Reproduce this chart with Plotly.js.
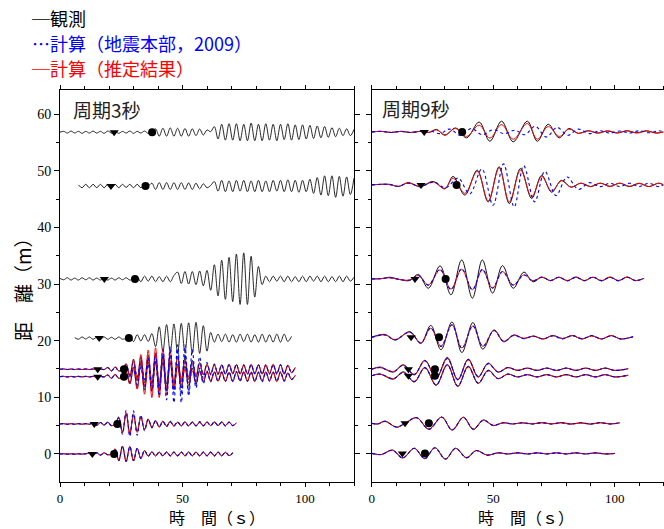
<!DOCTYPE html>
<html><head><meta charset="utf-8">
<script src="https://cdn.plot.ly/plotly-3.0.1.min.js"></script>
<style>html,body{margin:0;padding:0;background:#fff}#chart{width:664px;height:529px}</style>
</head><body><div id="chart"></div>
<script>
// ---------- time grids (s) ----------
const T_LEFT = [0,1.5,3,4.5,6,7.5,9,10.5,12,13.5,15,16.5,18,19.5,21,22.5,24,25.5,27,28.5,30,31.5,33,34.5,36,37.5,39,40.5,42,43.5,45,46.5,48,49.5,51,52.5,54,55.5,57,58.5,60,61.5,63,64.5,66,67.5,69,70.5,72,73.5,75,76.5,78,79.5,81,82.5,84,85.5,87,88.5,90,91.5,93,94.5,96,97.5,99,100.5,102,103.5,105,106.5,108,109.5,111,112.5,114,115.5,117,118.5,120];

// ---------- station distances (baselines) ----------
const BASE_LEFT  = [56.8, 47.3, 30.9, 20.45, 14.95, 13.65, 5.3, 0];
const BASE_RIGHT = [56.85, 47.5, 30.9, 20.6, 14.95, 13.8, 5.4, 0.1];

// ---------- phase markers (s) ----------
const TRI_LEFT  = [22.1, 20.8, 18.1, 16.0, 15.4, 15.4, 14.0, 13.2];
const CIR_LEFT  = [37.6, 34.9, 30.6, 28.1, 26.1, 26.1, 23.4, 22.1];
const TRI_RIGHT = [21.6, 20.3, 17.8, 16.2, 15.1, 15.1, 13.7, 12.6];
const CIR_RIGHT = [37.2, 34.9, 30.4, 27.7, 26.0, 26.0, 23.5, 21.9];

// ---------- period 3 s panel (amplitudes on T_LEFT) ----------
const L1_OBS = [0,0.15,-0.15,0.2,-0.15,0.15,-0.2,0.15,-0.15,0.2,-0.15,0.15,-0.2,0.2,-0.15,0.15,-0.2,0.15,-0.15,0.2,-0.2,0.15,-0.15,0.2,-0.2,0,
0.6,-0.7,0.7,-0.7,0.75,-0.7,0.7,-0.7,0.65,-0.7,0.6,-0.6,0.55,-0.5,0.4,0.1,
1.0,-1.2,1.4,-1.4,1.5,-1.4,1.5,-1.5,1.4,-1.5,1.6,-1.5,1.4,-1.5,1.5,-1.4,1.4,-1.5,1.4,-1.3,1.5,-1.4,1.3,-1.3,1.3,-1.2,1.2,-1.1,1.1,-1.0,1.0,-0.9,
0.8,-0.8,0.7,-0.6,0.6,-0.6,0.5];
const L2_OBS = [null,null,null,null,null,0.2,-0.3,0.3,-0.3,0.3,-0.3,0.3,-0.3,0.3,-0.3,0.3,-0.3,0.3,-0.25,0.3,-0.3,0.3,-0.3,0.2,0,
0.5,-0.6,0.6,-0.6,0.6,-0.6,0.6,-0.6,0.6,-0.6,0.55,-0.6,0.5,-0.5,0.4,-0.3,0.1,
0.8,-0.9,1.0,-1.0,0.9,-1.0,1.0,-0.9,1.0,-1.0,0.9,-1.0,1.0,-1.0,0.9,-1.0,1.0,-0.9,1.0,-1.0,1.1,-1.0,1.0,-1.1,1.0,-1.0,1.2,-1.3,
1.5,-1.6,1.8,-1.7,1.8,-2.0,1.7,-1.8,1.6,-1.5,1.4];
const L3_OBS = [0.1,-0.15,0.2,-0.2,0.15,-0.2,0.2,-0.15,0.2,-0.2,0.15,-0.2,0.2,-0.2,0.15,-0.2,0.2,-0.15,0.2,-0.2,0,
0.4,-0.5,0.5,-0.4,0.5,-0.5,0.4,-0.5,0.5,-0.5,0.6,
1.2,-0.8,1.3,-0.9,1.3,-1.0,1.4,-1.2,
1.5,-2.0,2.5,-3.0,3.3,-3.6,3.8,-4.0,4.4,-4.5,4.6,-4.5,4.0,-3.2,2.2,-1.0,
0.5,-0.5,0.5,-0.4,0.5,-0.5,0.5,-0.5,0.4,-0.5,0.5,-0.5,0.5,-0.4,0.5,-0.5,0.5,-0.5,0.4,-0.5,0.5,-0.5,0.5,-0.4,0.3];
const L4_OBS = [null,null,null,null,0.1,-0.2,0.2,-0.15,0.2,-0.2,0.15,-0.2,0.2,-0.2,0.15,-0.2,0.2,-0.2,0,
0.5,-0.6,0.6,-0.5,0.6,-0.6,
0.8,-1.5,2.0,-2.3,2.4,-2.5,2.5,-2.6,2.6,-2.6,2.7,-2.7,2.8,-2.7,2.2,-2.3,1.0,
-0.7,0.7,-0.6,0.7,-0.7,0.6,-0.7,0.7,-0.6,0.7,-0.7,0.6,-0.7,0.7,-0.7,0.6,-0.7,0.7,-0.7,0.7,-0.6,0.3];

const L56_QUIET = [0,0.05,-0.05,0.05,-0.05,0.05,-0.05,0.05,-0.05,0.05,-0.05,0.05,-0.05,0.3,-0.3,0.4,-0.3,0];
const L5_OBS_BURST = [1.0,-1.4,1.8,-2.0,2.2,-2.4,2.5,-2.5,2.6,-2.5,2.4,-2.6,2.5,-2.4,2.3,-2.2,2.0,-1.8,1.6,-1.4,1.2,-1.0,0.9];
const L5_OBS_TAIL  = [-0.8,0.8,-0.8,0.7,-0.8,0.8,-0.7,0.8,-0.8,0.7,-0.8,0.8,-0.7,0.8,-0.8,0.7,-0.8,0.8,-0.7,0.8,-0.8,0.7,-0.6,0.3];
const L5_RED_BURST = [0.8,-1.2,1.6,-2.0,2.6,-3.0,3.4,-3.6,3.8,-3.8,3.7,-3.6,3.2,-2.8,2.2,-1.8,1.5,-1.3,1.1,-1.0,0.9,-0.9,0.8];
const L5_RED_TAIL  = [-0.8,0.8,-0.9,0.8,-0.8,0.9,-0.8,0.8,-0.9,0.8,-0.8,0.9,-0.8,0.8,-0.9,0.8,-0.8,0.9,-0.8,0.8,-0.9,0.7,-0.6,0.3];
const L5_BLU_BURST = [0.8,-1.0,1.2,-1.4,1.6,-1.8,2.0,-2.4,2.8,-3.2,3.5,-3.8,4.0,-4.2,4.3,-4.5,4.3,-4.0,3.5,-2.8,2.2,-1.6,1.2];
const L5_BLU_TAIL  = [-1.0,0.9,-0.9,0.8,-0.9,0.8,-0.8,0.9,-0.8,0.8,-0.9,0.8,-0.8,0.8,-0.9,0.8,-0.8,0.8,-0.9,0.8,-0.8,0.7,-0.6,0.3];
const L6_OBS_BURST = [0.9,-1.3,1.7,-2.1,2.3,-2.4,2.6,-2.5,2.5,-2.6,2.5,-2.4,2.4,-2.3,2.2,-2.0,1.9,-1.7,1.5,-1.3,1.1,-1.0,0.9];
const L6_OBS_TAIL  = [-0.7,0.8,-0.8,0.7,-0.8,0.7,-0.8,0.8,-0.7,0.8,-0.8,0.7,-0.8,0.7,-0.8,0.8,-0.7,0.8,-0.8,0.7,-0.7,0.6,-0.5,0.2];
const L6_RED_BURST = [0.8,-1.3,1.7,-2.2,2.7,-3.1,3.4,-3.7,3.8,-3.7,3.6,-3.2,2.8,-2.2,1.8,-1.5,1.3,-1.1,1.0,-0.9,0.9,-0.8,0.8];
const L6_RED_TAIL  = [-0.9,0.8,-0.8,0.9,-0.8,0.8,-0.9,0.8,-0.8,0.9,-0.8,0.8,-0.9,0.8,-0.8,0.9,-0.8,0.8,-0.9,0.8,-0.8,0.7,-0.5,0.2];
const L6_BLU_BURST = [0.8,-1.0,1.3,-1.5,1.7,-1.9,2.2,-2.6,3.0,-3.4,3.8,-4.1,4.4,-4.6,4.8,-4.6,4.0,-3.4,2.6,-2.0,1.5,-1.2,1.0];
const L6_BLU_TAIL  = [-0.9,0.9,-0.8,0.8,-0.9,0.8,-0.8,0.9,-0.8,0.8,-0.8,0.9,-0.8,0.8,-0.9,0.8,-0.8,0.8,-0.8,0.9,-0.8,0.7,-0.5,0.2];

const L7_QUIET = [0,0.05,-0.05,0.05,-0.05,0.05,-0.05,0.05,-0.05,0.2,-0.25,0.25,-0.2,0.3,-0.3,0];
const L7_OBS_REST = [1.0,-1.4,1.8,-1.6,1.5,-1.3,1.2,-1.0,0.8,-0.6,
0.6,-0.5,0.5,-0.4,0.4,-0.4,0.3,-0.3,0.4,-0.3,0.3,-0.4,0.3,-0.3,0.4,-0.3,0.3,-0.3,0.4,-0.3,0.3,-0.3,0.2];
const L7_RED_REST = [1.2,-1.6,2.0,-1.9,1.8,-1.5,1.3,-1.0,0.8,-0.6,
0.5,-0.6,0.5,-0.4,0.5,-0.4,0.3,-0.4,0.3,-0.3,0.4,-0.3,0.3,-0.4,0.3,-0.3,0.4,-0.3,0.3,-0.3,0.4,-0.3,0.2];
const L7_BLU_REST = [1.2,-1.8,2.4,-2.2,2.3,-2.0,1.6,-1.2,0.9,-0.7,
0.6,-0.5,0.4,-0.5,0.4,-0.3,0.4,-0.3,0.3,-0.4,0.3,-0.3,0.4,-0.3,0.3,-0.3,0.4,-0.3,0.3,-0.4,0.3,-0.3,0.2];

const L8_QUIET = [0,0.03,-0.03,0.03,-0.03,0.03,-0.03,0.03,0.15,-0.2,0.2,-0.2,0.2,-0.15,0];
const L8_OBS_REST = [0.8,-1.1,1.3,-1.3,1.3,-1.2,1.0,-0.8,0.6,
-0.4,0.35,-0.35,0.3,-0.35,0.35,-0.3,0.35,-0.35,0.3,-0.35,0.35,-0.3,0.35,-0.35,0.3,-0.35,0.35,-0.3,0.35,-0.35,0.3,-0.3,0.2];
const L8_RED_REST = [0.9,-1.2,1.4,-1.4,1.3,-1.2,1.0,-0.8,0.6,
-0.35,0.4,-0.35,0.35,-0.3,0.35,-0.35,0.3,-0.35,0.35,-0.3,0.35,-0.35,0.3,-0.35,0.35,-0.3,0.35,-0.35,0.3,-0.35,0.3,-0.3,0.2];
const L8_BLU_REST = [0.8,-1.2,1.4,-1.3,1.3,-1.2,1.0,-0.8,0.6,
-0.4,0.35,-0.3,0.35,-0.35,0.3,-0.35,0.35,-0.3,0.35,-0.35,0.3,-0.35,0.35,-0.3,0.35,-0.35,0.3,-0.35,0.35,-0.3,0.3,-0.3,0.2];

// ---------- period 9 s panel (extrema times and amplitudes) ----------
const R1_T     = [0,4,8,12,16,20,23.5,26.7,30.1,34.5,39.0,44.2,48.6,53.4,58.2,64.0,68.1,72.6,77.1,81.1,85,89,93,97,101,105,109,113,117,120];
const R1_OBS   = [0,0.1,-0.1,0.1,-0.1,0.1,-0.1,0.45,-0.6,0.7,-1.05,1.75,-1.65,1.9,-1.75,1.9,-1.65,1.35,-1.05,0.6,-0.25,0.2,-0.2,0.15,-0.2,0.2,-0.15,0.2,-0.2,0];
const R1_RED   = [0,0.1,-0.1,0.1,-0.1,0.1,-0.1,0.35,-0.5,0.6,-0.8,1.2,-1.1,1.3,-1.3,1.5,-1.3,0.95,-0.8,0.5,-0.25,0.2,-0.2,0.2,-0.15,0.2,-0.2,0.15,-0.2,0];
const R1_BLU_T = [0,4,8,12,16,20,24,28,32,36.5,41,45.5,50,54.5,59,63,67.2,71.8,76.2,80.6,85,89.5,94,98,102,106,110,114,118,120];
const R1_BLU   = [0,0.1,-0.1,0.1,-0.1,0.1,0.2,-0.3,0.5,-0.6,0.6,-0.5,0.4,-0.3,0.3,-0.5,1.0,-0.9,0.8,-0.6,0.5,-0.3,0.2,-0.2,0.15,-0.2,0.2,-0.15,0.2,0];

const R2_T     = [0,4,7.5,11,15,19.9,25.3,30.1,33.5,38.3,43.4,47.9,52.4,56.6,61.2,65.8,69.9,74,78,82,86,90,94,98,102,106,110,114,118,120];
const R2_OBS   = [0,0.1,0.1,-0.3,0.4,-0.3,0.6,-0.7,1.5,-1.8,2.6,-3.0,3.2,-3.3,2.9,-2.4,1.7,-1.3,0.8,-0.4,0.3,-0.3,0.3,-0.25,0.3,-0.3,0.25,-0.3,0.3,0];
const R2_RED   = [0,0.1,0.05,-0.25,0.35,-0.3,0.5,-0.6,1.2,-1.5,2.4,-2.8,3.0,-3.0,2.6,-2.1,1.5,-1.1,0.7,-0.4,0.3,-0.3,0.3,-0.3,0.3,-0.25,0.3,-0.3,0.3,0];
const R2_BLU_T = [0,4,7.5,11,15,20,25.5,30.5,35.5,40.3,45.3,49.9,54.2,58.6,62.5,67,71.2,75.8,80.3,85,89.5,94,98,102,106,110,114,118,120];
const R2_BLU   = [0,0.1,0.05,-0.25,0.3,-0.3,0.5,-0.5,1.2,-1.6,2.8,-3.6,3.7,-3.9,3.4,-3.0,2.4,-1.9,1.4,-0.8,0.4,-0.3,0.3,-0.3,0.3,-0.3,0.3,-0.3,0];

const R3_T     = [0,4,7.5,11.5,15.5,19.2,23.3,28.1,32.6,37,41.4,45.5,49.7,53.8,58.2,62.6,66.3,70,73.5,77,80.5,84,87.5,91,94.5,98,101.5,105,108.5,112];
const R3_OBS   = [0,0.05,0.3,-0.1,-0.3,0.8,-1.65,2.3,-2.8,3.35,-3.4,3.35,-2.5,2.35,-1.65,1.2,-0.5,0.3,-0.3,0.3,-0.3,0.35,-0.3,0.3,-0.35,0.3,-0.3,0.35,-0.3,0.1];
const R3_RED   = [0,0.05,0.2,-0.1,-0.2,0.6,-1.06,1.6,-1.8,1.7,-1.9,1.6,-1.65,1.3,-1.06,0.7,-0.3,0.3,-0.3,0.3,-0.3,0.3,-0.3,0.3,-0.3,0.35,-0.3,0.3,-0.3,0.1];
const R3_BLU   = [0,0.05,0.2,-0.1,-0.2,0.6,-1.1,1.7,-1.9,1.8,-1.9,1.7,-1.6,1.3,-1.1,0.7,-0.35,0.35,-0.3,0.3,-0.35,0.3,-0.3,0.35,-0.3,0.3,-0.35,0.3,-0.3,0.1];

const R4_T     = [0,5.5,9.6,15.7,20.2,24.3,28.5,33.0,37.1,41.6,45.7,50.3,54.3,58.5,62.5,66.5,70.5,74.5,78.5,82.5,86.5,90.5,94.5,98.5,102.5,107.5];
const R4_OBS   = [0,0.5,-0.5,1.0,-1.1,2.1,-2.2,2.7,-2.7,2.6,-2.1,1.3,-0.8,0.4,-0.2,0.2,-0.3,0.3,-0.2,0.3,-0.3,0.25,-0.3,0.3,-0.3,0.1];
const R4_RED   = [0,0.4,-0.4,0.9,-1.0,1.6,-1.6,2.2,-1.9,2.0,-1.6,1.2,-0.7,0.4,-0.2,0.2,-0.3,0.3,-0.25,0.3,-0.3,0.25,-0.3,0.3,-0.3,0.1];
const R4_BLU   = [0,0.4,-0.45,0.9,-1.0,1.65,-1.6,2.2,-1.95,2.0,-1.6,1.2,-0.7,0.35,-0.25,0.2,-0.3,0.25,-0.3,0.3,-0.25,0.3,-0.3,0.25,-0.3,0.1];

const R56_T    = [0,3.4,8.9,13,17.5,21.9,26.5,31.1,35.4,39.7,43.8,47.9,52,56,60,64,68,72,76,80,84,88,92,96,100,105.5];
const R5_OBS   = [0,0.4,-0.5,0.8,-1.0,1.6,-1.6,2.1,-1.9,1.8,-1.4,1.1,-0.5,0.3,-0.2,0.2,-0.2,0.2,-0.2,0.2,-0.2,0.2,-0.2,0.2,-0.2,0.1];
const R5_RED   = [0,0.3,-0.4,0.7,-0.9,1.5,-1.5,1.9,-1.8,1.7,-1.3,1.0,-0.5,0.3,-0.2,0.2,-0.2,0.2,-0.2,0.2,-0.2,0.2,-0.2,0.2,-0.2,0.1];
const R6_OBS   = [0,0.3,-0.6,0.7,-1.1,1.5,-1.7,2.0,-1.9,1.7,-1.35,1.0,-0.5,0.3,-0.2,0.2,-0.2,0.2,-0.2,0.2,-0.2,0.2,-0.2,0.2,-0.2,0.1];
const R6_RED   = [0,0.3,-0.5,0.6,-1.0,1.4,-1.6,1.9,-1.8,1.6,-1.3,0.9,-0.5,0.3,-0.2,0.2,-0.2,0.2,-0.2,0.2,-0.2,0.2,-0.2,0.2,-0.2,0.1];

const R7_T     = [0,2.5,5.5,10.2,13.7,18.5,23.5,28.8,33.1,37.7,41.8,45.9,50,54,58,62,66,70,74,78,82,86,90,94,98,102];
const R7_OBS   = [0,-0.1,0.4,-0.7,0,1.0,-1.0,1.1,-1.2,1.1,-1.1,0.6,-0.4,0.1,-0.1,0.1,-0.1,0.1,-0.1,0.15,-0.1,0.1,-0.15,0.1,-0.1,0.1];
const R7_RED   = [0,-0.1,0.35,-0.65,0,1.0,-1.05,1.1,-1.15,1.05,-1.0,0.55,-0.35,0.1,-0.1,0.1,-0.1,0.15,-0.1,0.1,-0.15,0.1,-0.1,0.15,-0.1,0.1];

const R8_T     = [0,4,8.5,12.8,17.5,21.8,26.0,30.3,34.5,39,43,47.5,52,56,60,64,68,72,76,80,84,88,92,96,100];
const R8_OBS   = [0,-0.2,0.6,-0.8,0.9,-0.9,1.0,-1.0,0.9,-0.8,0.5,-0.3,0.1,-0.1,0.1,-0.1,0.1,-0.1,0.1,-0.1,0.1,-0.1,0.1,-0.1,0];
const R8_RED   = [0,-0.2,0.55,-0.8,0.9,-0.95,1.0,-1.0,0.9,-0.75,0.5,-0.3,0.1,-0.1,0.1,-0.1,0.1,-0.1,0.1,-0.1,0.1,-0.1,0.1,-0.1,0];

// ---------- drawing ----------
const BLACK = '#111', RED = '#ff0000', BLUE = '#0000ff';
const traces = [];
function wave(t, base, amp, color, dash, xa, ya, w) {
  traces.push({type:'scatter', mode:'lines', x:t, y:amp.map(a => a === null ? null : base + a),
    xaxis:xa, yaxis:ya, hoverinfo:'skip', showlegend:false,
    line:{color:color, width:w, dash:dash, shape:'spline', smoothing:1}});
}
const L = (b,a,c,d,w) => wave(T_LEFT, BASE_LEFT[b], a, c, d, 'x', 'y', w);
L(0, L1_OBS, BLACK, 'solid', 0.9);
L(1, L2_OBS, BLACK, 'solid', 0.9);
L(2, L3_OBS, BLACK, 'solid', 0.9);
L(3, L4_OBS, BLACK, 'solid', 0.9);
L(4, L56_QUIET.concat(L5_OBS_BURST, L5_OBS_TAIL), BLACK, 'solid', 0.9);
L(5, L56_QUIET.concat(L6_OBS_BURST, L6_OBS_TAIL), BLACK, 'solid', 0.9);
L(6, L7_QUIET.concat(L7_OBS_REST), BLACK, 'solid', 0.9);
L(7, L8_QUIET.concat(L8_OBS_REST), BLACK, 'solid', 0.9);
L(4, L56_QUIET.concat(L5_RED_BURST, L5_RED_TAIL), RED, 'solid', 1);
L(5, L56_QUIET.concat(L6_RED_BURST, L6_RED_TAIL), RED, 'solid', 1);
L(6, L7_QUIET.concat(L7_RED_REST), RED, 'solid', 1);
L(7, L8_QUIET.concat(L8_RED_REST), RED, 'solid', 1);
L(4, L56_QUIET.concat(L5_BLU_BURST, L5_BLU_TAIL), BLUE, 'dot', 1.1);
L(5, L56_QUIET.concat(L6_BLU_BURST, L6_BLU_TAIL), BLUE, 'dot', 1.1);
L(6, L7_QUIET.concat(L7_BLU_REST), BLUE, 'dot', 1.1);
L(7, L8_QUIET.concat(L8_BLU_REST), BLUE, 'dot', 1.1);

const R = (t,b,a,c,d,w) => wave(t, BASE_RIGHT[b], a, c, d, 'x2', 'y2', w);
R(R1_T,0,R1_OBS,BLACK,'solid',1); R(R2_T,1,R2_OBS,BLACK,'solid',1); R(R3_T,2,R3_OBS,BLACK,'solid',1); R(R4_T,3,R4_OBS,BLACK,'solid',1);
R(R56_T,4,R5_OBS,BLACK,'solid',1); R(R56_T,5,R6_OBS,BLACK,'solid',1); R(R7_T,6,R7_OBS,BLACK,'solid',1); R(R8_T,7,R8_OBS,BLACK,'solid',1);
R(R1_T,0,R1_RED,RED,'solid',1); R(R2_T,1,R2_RED,RED,'solid',1); R(R3_T,2,R3_RED,RED,'solid',1); R(R4_T,3,R4_RED,RED,'solid',1);
R(R56_T,4,R5_RED,RED,'solid',1); R(R56_T,5,R6_RED,RED,'solid',1); R(R7_T,6,R7_RED,RED,'solid',1); R(R8_T,7,R8_RED,RED,'solid',1);
R(R1_BLU_T,0,R1_BLU,BLUE,'dot',1.1); R(R2_BLU_T,1,R2_BLU,BLUE,'dot',1.1); R(R3_T,2,R3_BLU,BLUE,'dot',1.1); R(R4_T,3,R4_BLU,BLUE,'dot',1.1);
R(R56_T,4,R5_RED,BLUE,'dot',1.1); R(R56_T,5,R6_RED,BLUE,'dot',1.1); R(R7_T,6,R7_RED,BLUE,'dot',1.1); R(R8_T,7,R8_RED,BLUE,'dot',1.1);

function markers(t, base, sym, size, xa, ya) {
  traces.push({type:'scatter', mode:'markers', x:t, y:base, xaxis:xa, yaxis:ya, hoverinfo:'skip', showlegend:false,
    marker:{symbol:sym, size:size, color:'#000', line:{width:0}}});
}
markers(TRI_LEFT, BASE_LEFT, 'triangle-down', 8, 'x', 'y');
markers(CIR_LEFT, BASE_LEFT, 'circle', 8, 'x', 'y');
markers(TRI_RIGHT, BASE_RIGHT, 'triangle-down', 8, 'x2', 'y2');
markers(CIR_RIGHT, BASE_RIGHT, 'circle', 8, 'x2', 'y2');

// ---------- layout ----------
const CJK = 'Noto Sans CJK JP, Noto Sans CJK SC, sans-serif';
const SERIF = 'Liberation Serif, DejaVu Serif, serif';
const xBase = {range:[0,120], tick0:0, dtick:50, ticks:'outside', ticklen:4, tickwidth:1, tickcolor:'#000',
  showline:true, linecolor:'#000', linewidth:1, mirror:'ticks', showgrid:false, zeroline:false, fixedrange:true,
  minor:{tick0:0, dtick:10, ticks:'outside', ticklen:3, tickwidth:1, tickcolor:'#000', showgrid:false},
  tickfont:{family:SERIF, size:13, color:'#000'}};
const yBase = {range:[-4.95,64.25], tick0:0, dtick:10, ticks:'outside', ticklen:5, tickwidth:1, tickcolor:'#000',
  showline:true, linecolor:'#000', linewidth:1, mirror:'ticks', showgrid:false, zeroline:false, fixedrange:true,
  minor:{tick0:0, dtick:5, ticks:'outside', ticklen:3, tickwidth:1, tickcolor:'#000', showgrid:false},
  tickfont:{family:SERIF, size:14, color:'#000'}};

const px = v => (v - 60) / 604;
const py = v => (482 - v) / 392;
const ann = (text, x, y, size, color, extra) => Object.assign({text:text, xref:'paper', yref:'paper', x:px(x), y:py(y),
  xanchor:'left', yanchor:'middle', showarrow:false, borderpad:0, font:{family:CJK, size:size, color:color}}, extra || {});

const layout = {
  width:664, height:529, margin:{l:60, r:0, t:90, b:47},
  paper_bgcolor:'#fff', plot_bgcolor:'#fff', showlegend:false,
  xaxis: Object.assign({}, xBase, {domain:[0, 294/604], anchor:'y'}),
  xaxis2: Object.assign({}, xBase, {domain:[311.7/604, 603.5/604], anchor:'y2'}),
  yaxis: Object.assign({}, yBase, {domain:[0,1], anchor:'x'}),
  yaxis2: Object.assign({}, yBase, {domain:[0,1], anchor:'x2', showticklabels:false}),
  annotations: [
    ann('─観測', 31, 18, 18, '#000'),
    ann('⋯計算（地震本部，2009）', 31, 43, 18, BLUE),
    ann('─計算（推定結果）', 31, 68, 18, RED),
    ann('周期3秒', 72, 110, 19, '#222'),
    ann('周期9秒', 381, 108, 19, '#222'),
    ann('時　間（ｓ）', 168, 517, 16, '#000'),
    ann('時　間（ｓ）', 477, 517, 16, '#000'),
    ann('距　離（m）', 22, 285, 19, '#000', {xanchor:'center', textangle:-90})
  ]
};

Plotly.newPlot('chart', traces, layout, {staticPlot:true, displayModeBar:false});
</script></body></html>
